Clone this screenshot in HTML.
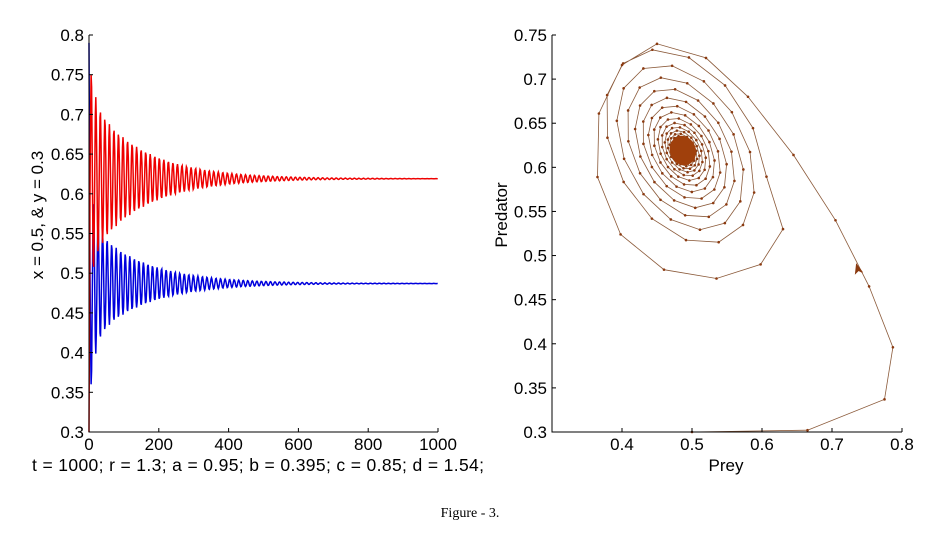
<!DOCTYPE html>
<html><head><meta charset="utf-8"><style>
body{margin:0;background:#fff;width:947px;height:535px;overflow:hidden}
svg{display:block}
text{font-family:"Liberation Sans",sans-serif;font-size:17px;fill:#000}
</style></head><body>
<svg id="s" width="947" height="535" xmlns="http://www.w3.org/2000/svg">
<g id="L"></g><g id="R"></g>
<text x="470" y="517" text-anchor="middle" style="font-family:'Liberation Serif',serif;font-size:14px">Figure - 3.</text>
<text x="32" y="471" style="font-size:17.5px" textLength="452">t = 1000; r = 1.3; a = 0.95; b = 0.395; c = 0.85; d = 1.54;</text>
<text transform="translate(43,215) rotate(-90)" text-anchor="middle">x = 0.5, &amp; y = 0.3</text>
<text transform="translate(507,215) rotate(-90)" text-anchor="middle">Predator</text>
<text x="726" y="471" text-anchor="middle">Prey</text>
</svg>
<script>
(function(){
const NS="http://www.w3.org/2000/svg";
function el(p,t,a,txt){const e=document.createElementNS(NS,t);for(const k in a)e.setAttribute(k,a[k]);if(txt!=null)e.textContent=txt;p.appendChild(e);return e;}
const L=document.getElementById('L'),R=document.getElementById('R');
const lx0=89,lx1=438,yT=35,yB=432;
const ly=v=>yB-(v-0.3)/0.5*(yB-yT), lxf=t=>lx0+t/1000*(lx1-lx0);
function series(c,a0,a1,ph,col,v0){let d='M'+lxf(0)+','+ly(v0).toFixed(1);for(let t=3;t<=1000;t+=1.5){const amp=a0*Math.exp(-t/150)+a1*Math.exp(-t/14);const v=c+amp*Math.cos(2*Math.PI*t/13+ph);d+='L'+lxf(t).toFixed(1)+','+ly(v).toFixed(1);}el(L,'path',{d:d,fill:'none',stroke:col,'stroke-width':1.5});}
series(0.487,0.075,0.09,0,'#0000dd',0.79);
series(0.619,0.1,0.06,Math.PI,'#ee0000',0.3);
el(L,'path',{d:`M${lx0},${yT}V${yB}H${lx1}`,fill:'none',stroke:'#000','stroke-width':1});
for(let i=0;i<=10;i++){const v=0.3+i*0.05,y=ly(v);el(L,'line',{x1:lx0,x2:lx0+4,y1:y,y2:y,stroke:'#000'});el(L,'text',{x:84,y:y+6,'text-anchor':'end'},(+v.toFixed(2)).toString());}
for(let i=0;i<=5;i++){const x=lxf(i*200);el(L,'line',{x1:x,x2:x,y1:yB,y2:yB-4,stroke:'#000'});el(L,'text',{x:x,y:450,'text-anchor':'middle'},String(i*200));}
const rx0=552,rx1=902;
const px=v=>rx0+(v-0.3)/0.5*(rx1-rx0), py=v=>yB-(v-0.3)/0.45*(yB-yT);
let pts=[[0.5,0.3],[0.665,0.302],[0.775,0.337],[0.787,0.396],[0.753,0.465],[0.705,0.54],[0.645,0.614],[0.58,0.68],[0.52,0.724],[0.45,0.74],[0.4,0.716],[0.367,0.661],[0.365,0.589],[0.398,0.524],[0.46,0.484],[0.535,0.474],[0.598,0.49],[0.63,0.53]];
const cx=0.487,cy=0.619,phi=-20*Math.PI/180;let r=0.12,th=0.1;
for(let n=0;n<500;n++){pts.push([cx+r*Math.cos(th),cy+r*Math.sin(th+phi)]);th+=2*Math.PI/13.5;r*=Math.exp(-0.012);}
let d='';pts.forEach((p,i)=>{d+=(i?'L':'M')+px(p[0]).toFixed(1)+','+py(p[1]).toFixed(1);});
el(R,'path',{d:d,fill:'none',stroke:'#8b5a3a','stroke-width':0.8});
pts.forEach(p=>el(R,'circle',{cx:px(p[0]),cy:py(p[1]),r:1.3,fill:'#8b3a10'}));
el(R,'ellipse',{cx:px(0.487),cy:py(0.619),rx:13,ry:15,fill:'#a0400c',transform:`rotate(-20 ${px(0.487)} ${py(0.619)})`});
const ax=px(0.735),ay=py(0.49);el(R,'path',{d:`M${ax},${ay} l-1,9 l3,-3 l4,2 z`,fill:'#8b3a10',stroke:'#8b3a10'});
el(R,'path',{d:`M${rx0},${yT}V${yB}H${rx1}`,fill:'none',stroke:'#000','stroke-width':1});
for(let i=0;i<=9;i++){const v=0.3+i*0.05,y=py(v);el(R,'line',{x1:rx0,x2:rx0+4,y1:y,y2:y,stroke:'#000'});el(R,'text',{x:547,y:y+6,'text-anchor':'end'},(+v.toFixed(2)).toString());}
for(let i=1;i<=5;i++){const v=0.3+i*0.1,x=px(v);el(R,'line',{x1:x,x2:x,y1:yB,y2:yB-4,stroke:'#000'});el(R,'text',{x:x,y:450,'text-anchor':'middle'},(+v.toFixed(1)).toString());}
})();
</script>
</body></html>
